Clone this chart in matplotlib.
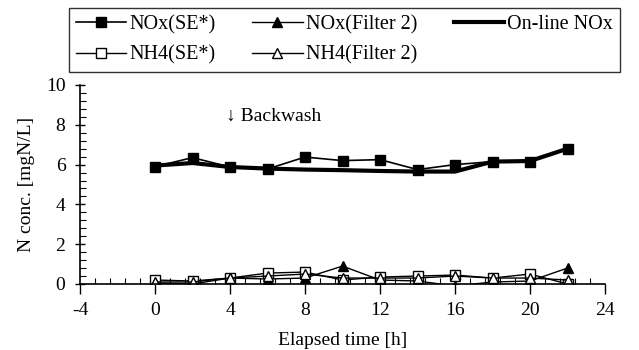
import matplotlib
matplotlib.use("Agg")
import matplotlib.pyplot as plt
from matplotlib.ticker import MultipleLocator

plt.rcParams['font.family'] = ['Liberation Serif', 'DejaVu Serif']
plt.rcParams['font.size'] = 14
plt.rcParams['axes.unicode_minus'] = False

hours = [0, 2, 4, 6, 8, 10, 12, 14, 16, 18, 20, 22]
nox_se = [5.9, 6.35, 5.88, 5.78, 6.38, 6.2, 6.25, 5.75, 6.0, 6.15, 6.15, 6.8]
nox_f2 = [0.05, 0.0, 0.3, 0.25, 0.3, 0.9, 0.2, 0.15, -0.1, 0.1, 0.15, 0.8]
nh4_se = [0.2, 0.15, 0.3, 0.55, 0.6, 0.2, 0.35, 0.4, 0.45, 0.3, 0.5, 0.0]
nh4_f2 = [0.1, 0.1, 0.3, 0.4, 0.5, 0.3, 0.3, 0.3, 0.4, 0.3, 0.3, 0.2]
online_nox = [5.95, 6.08, 5.88, 5.8, 5.75, 5.72, 5.68, 5.65, 5.65, 6.15, 6.18, 6.8]

W, H = 639, 350
fig = plt.figure(figsize=(W / 100, H / 100), dpi=100)
ax = fig.add_axes([80 / W, 1 - 284 / H, (605 - 80) / W, (284 - 85) / H])

l1, = ax.plot(hours, nox_se, '-', color='black', lw=1.2, marker='s', ms=7.5,
              mfc='black', mec='black', label='NOx(SE*)')
l2, = ax.plot(hours, nh4_se, '-', color='black', lw=1.0, marker='s', ms=7,
              mfc='white', mec='black', mew=1.0, label='NH4(SE*)')
l3, = ax.plot(hours, nox_f2, '-', color='black', lw=1.0, marker='^', ms=7.5,
              mfc='black', mec='black', label='NOx(Filter 2)')
l4, = ax.plot(hours, nh4_f2, '-', color='black', lw=1.0, marker='^', ms=7,
              mfc='white', mec='black', mew=1.0, label='NH4(Filter 2)')
l5, = ax.plot(hours, online_nox, '-', color='black', lw=3.0, label='On-line NOx')

ax.set_xlim(-4, 24)
ax.set_ylim(0, 10)
ax.xaxis.set_major_locator(MultipleLocator(4))
ax.xaxis.set_minor_locator(MultipleLocator(0.8))
ax.yaxis.set_major_locator(MultipleLocator(2))
ax.yaxis.set_minor_locator(MultipleLocator(0.4))
ax.tick_params(axis='y', which='major', direction='inout', length=7, width=1.0, pad=7)
ax.tick_params(axis='x', which='major', direction='out', length=7, width=1.0, pad=6)
ax.tick_params(which='minor', direction='in', length=4, width=0.8)
ax.tick_params(axis='both', labelsize=14)
for s in ['top', 'right']:
    ax.spines[s].set_visible(False)
for s in ['left', 'bottom']:
    ax.spines[s].set_linewidth(1.2)

ax.set_xlabel('Elapsed time [h]', fontsize=14, labelpad=9)
ax.set_ylabel('N conc. [mgN/L]', fontsize=14, labelpad=8)

ax.text(3.8, 8.45, '\u2193 Backwash', fontsize=14, va='center', ha='left')

leg = fig.legend(handles=[l1, l2, l3, l4, l5], ncol=3, loc='upper left',
                 bbox_to_anchor=(69 / W, 1 - 8 / H, (620 - 69) / W, 0.0),
                 bbox_transform=fig.transFigure, mode='expand',
                 frameon=True, fancybox=False, edgecolor='black', fontsize=14.5,
                 handlelength=2.5, handletextpad=0.15,
                 labelspacing=0.55, borderpad=0.35, borderaxespad=0)
leg.get_frame().set_linewidth(1.0)

fig.savefig('out.png', dpi=100)
